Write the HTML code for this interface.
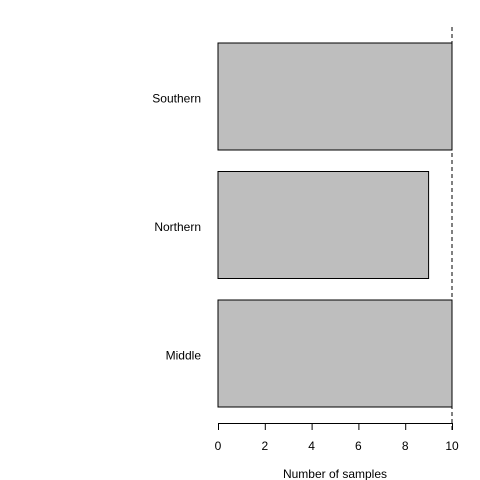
<!DOCTYPE html>
<html><head><style>
body{margin:0;background:#fff;}
svg{display:block;font-family:"Liberation Sans",Arial,sans-serif;}
</style></head><body>
<svg id="chart" width="480" height="480">
<g id="bars"></g>
<g id="axis"></g>
<text x="335" y="478" font-size="12" text-anchor="middle">Number of samples</text>
</svg>
<script>
const categories = ["Middle","Northern","Southern"];
const values = [10, 9, 10];
const ticks = [0,2,4,6,8,10];
const refLine = 10;
const x0=218, x1=452, xmax=10;
const xs = v => x0 + (v/xmax)*(x1-x0);
const bandTop=28, bandStep=128.5, barH=107;
const ns="http://www.w3.org/2000/svg";
const bars=document.getElementById('bars'), axis=document.getElementById('axis');
function mk(tag,attrs,parent){const e=document.createElementNS(ns,tag);for(const k in attrs)e.setAttribute(k,attrs[k]);parent.appendChild(e);return e;}
const n=categories.length;
categories.forEach((c,i)=>{
  const y = bandTop + 15 + (n-1-i)*bandStep;
  const r=mk('rect',{x:xs(0),y:y,width:xs(values[i])-xs(0),height:barH,fill:'#bebebe',stroke:'#000','stroke-width':1},bars);
  
  
  const t=mk('text',{x:201,y:y+barH/2+6,'font-size':12,'text-anchor':'end'},bars);
  t.textContent=c;
  
  
});
const dl=mk('line',{x1:xs(refLine),x2:xs(refLine),y1:27,y2:430,stroke:'#000','stroke-dasharray':'4,3'},axis);


const al=mk('line',{x1:xs(ticks[0]),x2:xs(ticks[ticks.length-1]),y1:423.5,y2:423.5,stroke:'#000'},axis);


ticks.forEach(v=>{
  const tk=mk('line',{x1:xs(v)+0.5,x2:xs(v)+0.5,y1:423,y2:430,stroke:'#000'},axis);
  
  
  const t=mk('text',{x:xs(v),y:450,'font-size':12,'text-anchor':'middle'},axis);
  t.textContent=v;
  
  
});
</script>
</body></html>
